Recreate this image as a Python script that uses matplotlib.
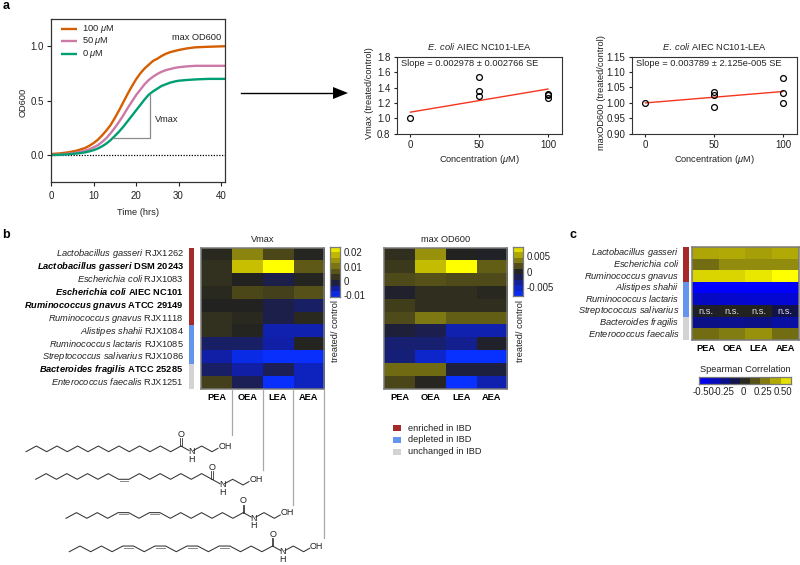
import matplotlib
matplotlib.use('Agg')
import matplotlib.pyplot as plt
import numpy as np
from matplotlib.colors import LinearSegmentedColormap, TwoSlopeNorm
from matplotlib.patches import Rectangle

plt.rcParams['font.family'] = ['Liberation Sans', 'DejaVu Sans']
plt.rcParams['mathtext.fontset'] = 'custom'
plt.rcParams['mathtext.rm'] = 'Liberation Sans'
plt.rcParams['mathtext.it'] = 'Liberation Sans:italic'
plt.rcParams['mathtext.bf'] = 'Liberation Sans:bold'
plt.rcParams['mathtext.bfit'] = 'Liberation Sans:italic:bold'

# panel a growth curves
time_hrs = [0, 2, 4, 6, 8, 9, 10, 11, 12, 13, 14, 15, 16, 17, 18, 19, 20, 21, 22, 23, 24, 25, 26, 27, 28, 29, 30,
            32, 34, 37, 41]
od_100 = [.01, .015, .025, .04, .065, .085, .11, .14, .18, .225, .275, .34, .41, .485, .56, .63, .695, .75, .795,
          .83, .865, .885, .91, .93, .945, .955, .965, .98, .99, .995, 1.0]
od_50 = [0, .005, .012, .022, .04, .053, .07, .09, .12, .155, .2, .25, .305, .365, .43, .49, .55, .6, .65,
         .69, .72, .745, .765, .78, .79, .80, .807, .815, .82, .82, .82]
od_0 = [0, .003, .007, .014, .025, .034, .045, .06, .08, .105, .137, .175, .215, .26, .31, .36, .41, .46, .51,
        .555, .585, .61, .635, .65, .665, .675, .683, .69, .695, .70, .70]

# panel a regressions
conc_pts = [0, 50, 50, 50, 100, 100, 100]
vmax_pts = [1.0, 1.53, 1.35, 1.29, 1.32, 1.30, 1.27]
maxod_pts = [1.0, 1.037, 1.025, 0.987, 1.082, 1.031, 1.0]
fit_conc = [0, 100]
vmax_fit = [1.08, 1.38]
maxod_fit = [1.0, 1.037]

# panel b
strains = [
    (r'Lactobacillus\ gasseri', 'RJX1262', False),
    (r'Lactobacillus\ gasseri', 'DSM 20243', True),
    (r'Escherichia\ coli', 'RJX1083', False),
    (r'Escherichia\ coli', 'AIEC NC101', True),
    (r'Ruminococcus\ gnavus', 'ATCC 29149', True),
    (r'Ruminococcus\ gnavus', 'RJX1118', False),
    (r'Alistipes\ shahii', 'RJX1084', False),
    (r'Ruminococcus\ lactaris', 'RJX1085', False),
    (r'Streptococcus\ salivarius', 'RJX1086', False),
    (r'Bacteroides\ fragilis', 'ATCC 25285', True),
    (r'Enterococcus\ faecalis', 'RJX1251', False),
]
compounds = ['PEA', 'OEA', 'LEA', 'AEA']
vmax_heat = [
    [.001, .012, .005, .0005],
    [.002, .019, .024, .007],
    [.002, 0, -.002, .0003],
    [.001, .005, .004, .006],
    [0, 0, -.002, -.003],
    [.002, .001, -.002, .001],
    [.002, .0002, -.006, -.006],
    [-.003, -.003, -.0055, .0003],
    [-.0055, -.0095, -.011, -.011],
    [-.003, -.0055, -.0025, -.007],
    [.004, -.0025, -.011, -.007],
]
maxod_heat = [
    [.0005, .0045, 0, -.0002],
    [.001, .0062, .008, .0025],
    [.0018, .002, .0018, .0018],
    [-.0004, .0006, .0006, .0003],
    [.0012, .0005, .0005, .0005],
    [.0018, .0035, .0025, .0025],
    [-.0008, -.0015, -.0042, -.0042],
    [-.0024, -.0024, -.0032, -.0003],
    [-.0026, -.0055, -.0078, -.0078],
    [.003, .003, -.001, -.001],
    [.0016, .0002, -.0078, -.0042],
]
strain_groups = ['brown'] * 6 + ['cornflowerblue'] * 3 + ['lightgray'] * 2

# panel c
species = ['Lactobacillus gasseri', 'Escherichia coli', 'Ruminococcus gnavus', 'Alistipes shahii',
           'Ruminococcus lactaris', 'Streptococcus salivarius', 'Bacteroides fragilis', 'Enterococcus faecalis']
spearman = [
    [.40, .41, .38, .41],
    [.23, .32, .32, .32],
    [.52, .52, .55, .60],
    [-.55, -.55, -.55, -.55],
    [-.38, -.40, -.42, -.42],
    [-.02, 0, 0, -.1],
    [-.22, -.24, -.22, -.28],
    [.23, .28, .34, .23],
]
species_groups = ['brown'] * 3 + ['cornflowerblue'] * 3 + ['lightgray'] * 2
ns_row = 5

# structures: bonds in the tail and which of them are double
tails = [
    (15, [], 26.0, 451.7, 10.33),
    (17, [8], 35.7, 479.3, 10.37),
    (17, [5, 8], 66.0, 518.3, 10.43),
    (19, [5, 8, 11, 14], 69.3, 551.7, 10.7),
]
line_ends = [435, 470, 505, 537.7]

W, H = 800, 565
fig = plt.figure(figsize=(8, 5.65), dpi=100, facecolor='white')
FS = 6.7
TXT = '#222222'


def ax_px(l, t, r, b):
    return fig.add_axes([l / W, 1 - b / H, (r - l) / W, (b - t) / H])


# overlay in pixel coordinates for the annotations
ov = fig.add_axes([0, 0, 1, 1], zorder=5)
ov.set_xlim(0, W)
ov.set_ylim(H, 0)
ov.axis('off')


def label(x, y, s, **kw):
    kw.setdefault('fontsize', FS)
    kw.setdefault('color', TXT)
    kw.setdefault('va', 'center')
    kw.setdefault('ha', 'center')
    ov.text(x, y, s, **kw)


for s, x, y in [('a', 2.5, 6), ('b', 2.5, 235.5), ('c', 569, 235.5)]:
    label(x, y, s, fontsize=9, fontweight='bold', ha='left', color='black')

# --- growth curves
ax = ax_px(51, 19, 225.3, 182.3)
ax.plot(time_hrs, od_100, color='#d55e00', lw=1.7, solid_capstyle='butt')
ax.plot(time_hrs, od_50, color='#cc79a7', lw=1.7, solid_capstyle='butt')
ax.plot(time_hrs, od_0, color='#009e73', lw=1.7, solid_capstyle='butt')
ax.axhline(0, color='black', lw=0.9, ls=(0, (1, 1.2)), zorder=1)
ax.plot([14.5, 23.3, 23.3], [.155, .155, .56], color='#8c8c8c', lw=0.9)
ax.set_xlim(0, 41)
ax.set_ylim(-0.25, 1.25)
ax.set_xticks([0, 10, 20, 30, 40])
ax.set_yticks([0, .5, 1])
ax.set_yticklabels(['0.0', '0.5', '1.0'])
ax.tick_params(labelsize=7, length=3, width=0.8, pad=2, colors=TXT)
ax.tick_params(axis='x', pad=3.5)
for sp in ax.spines.values():
    sp.set_linewidth(0.9)
    sp.set_color('#333333')
label(138, 212.5, 'Time (hrs)', fontsize=FS)
label(23, 102, 'OD600', rotation=90, fontsize=FS)
label(167, 119, 'Vmax', fontsize=FS)
label(221, 38, 'max OD600', ha='right', fontsize=FS)
for y, c, s in [(29.3, '#d55e00', r'100 $\mu$M'), (41, '#cc79a7', r'50 $\mu$M'), (54.3, '#009e73', r'0 $\mu$M')]:
    ov.plot([61, 77.3], [y, y], color=c, lw=1.7, solid_capstyle='butt')
    label(82.3, y, s, ha='left', fontsize=6.7)

# big arrow
ov.plot([241, 335], [93, 93], color='black', lw=1)
ov.fill([333, 348, 333], [87, 93, 99], color='black', lw=0)


# --- regressions
def regression(box, pts, fit, ylim, ticks, fmt, slope, ylab, ylab_x):
    a = ax_px(*box)
    a.plot(fit_conc, fit, color='#f5351f', lw=1)
    a.plot(conc_pts, pts, 'o', mfc='none', mec='black', mew=0.9, ms=4.2, ls='none')
    a.set_xlim(-10, 110)
    a.set_ylim(*ylim)
    a.set_xticks([0, 50, 100])
    a.set_yticks(ticks)
    a.set_yticklabels([fmt % t for t in ticks])
    a.tick_params(labelsize=7, length=2.5, width=0.8, pad=2, colors=TXT)
    for sp in a.spines.values():
        sp.set_linewidth(0.8)
        sp.set_color('#333333')
    mid = (box[0] + box[2]) / 2
    label(mid, 47, r'$\mathit{E.\ coli}$ AIEC NC101-LEA', fontsize=FS)
    label(box[0] + 4.5, 63.3, slope, ha='left', fontsize=FS)
    label(mid, 159, r'Concentration ($\mu$M)', fontsize=FS)
    label(ylab_x, 93, ylab, rotation=90, fontsize=FS)


regression((396.7, 56.7, 561.7, 133.7), vmax_pts, vmax_fit, (.8, 1.8), [.8, 1, 1.2, 1.4, 1.6, 1.8], '%.1f',
           'Slope = 0.002978 ± 0.002766 SE', 'Vmax (treated/control)', 370)
regression((631.7, 56.7, 796.7, 133.7), maxod_pts, maxod_fit, (.9, 1.15), [.9, .95, 1, 1.05, 1.1, 1.15], '%.2f',
           'Slope = 0.003789 ± 2.125e-005 SE', 'maxOD600 (treated/control)', 601)

# --- heatmaps
cmap_b = LinearSegmentedColormap.from_list('bluedarkyellow', [
    (0, '#0830ff'), (.25, '#1020a8'), (.4, '#1c1f50'), (.5, '#222222'),
    (.6, '#4a461a'), (.75, '#8a8410'), (.9, '#c8c000'), (1, '#ffff00')])
cmap_c = LinearSegmentedColormap.from_list('bluedarkyellow2', [
    (0, '#0000ff'), (.25, '#0a10a0'), (.4, '#12124f'), (.5, '#222222'),
    (.6, '#4a461a'), (.75, '#8a8410'), (.9, '#c8c000'), (1, '#ffff00')])


def heat(box, values, cmap, norm):
    a = ax_px(*box)
    a.imshow(values, cmap=cmap, norm=norm, aspect='auto', interpolation='nearest')
    a.set_xticks([])
    a.set_yticks([])
    for sp in a.spines.values():
        sp.set_linewidth(1.1)
        sp.set_color('#7a7a7a')


def scale_bar(box, cmap, norm, ticks, ticklabels, horizontal=False):
    # banded key, value axis stays linear so ticks land where the reference has them
    c = ax_px(*box)
    edges = np.linspace(norm.vmin, norm.vmax, 10)
    mids = (edges[:-1] + edges[1:]) / 2
    if horizontal:
        c.pcolormesh(edges, [0, 1], mids[None, :], cmap=cmap, norm=norm)
        c.set_yticks([])
        c.set_xticks(ticks)
        c.set_xticklabels(ticklabels)
    else:
        c.pcolormesh([0, 1], edges, mids[:, None], cmap=cmap, norm=norm)
        c.set_xticks([])
        c.yaxis.tick_right()
        c.set_yticks(ticks)
        c.set_yticklabels(ticklabels)
    c.tick_params(length=0, labelsize=FS + 0.2, pad=2.5, colors=TXT)
    for sp in c.spines.values():
        sp.set_linewidth(0.9)
        sp.set_color('#7a7a7a')


heat_top, heat_bot = 247.7, 389.3
row_h = (heat_bot - heat_top) / len(strains)
norm_vmax = TwoSlopeNorm(0, -.0112, .024)
norm_maxod = TwoSlopeNorm(0, -.0078, .008)
norm_corr = TwoSlopeNorm(0, -.55, .6)
heat((201, heat_top, 324, heat_bot), vmax_heat, cmap_b, norm_vmax)
heat((384.3, heat_top, 507.3, heat_bot), maxod_heat, cmap_b, norm_maxod)
scale_bar((330, 246.7, 340, 296.7), cmap_b, norm_vmax, [.02, .01, 0, -.01], ['0.02', '0.01', '0', '-0.01'])
scale_bar((513.3, 246.7, 523.3, 296), cmap_b, norm_maxod, [.005, 0, -.005], ['0.005', '0', '-0.005'])
label(262.5, 240, 'Vmax')
label(445.8, 240, 'max OD600')
label(336, 330.5, 'treated/ control', rotation=90)
label(520.5, 331, 'treated/ control', rotation=90)

for i, (name, code, bold) in enumerate(strains):
    y = heat_top + (i + .5) * row_h + 2.3
    if bold:
        label(183.7, y, r'$\mathbfit{%s}$ %s' % (name, code), ha='right', va='baseline', fontweight='bold', color='black')
    else:
        label(183.7, y, r'$\mathit{%s}$ %s' % (name, code), ha='right', va='baseline')
    ov.add_patch(Rectangle((188.7, heat_top + i * row_h), 5.6, row_h, color=strain_groups[i], lw=0))

for left in (201, 384.3):
    for j, comp in enumerate(compounds):
        label(left + (j + .5) * 123 / 4, 398, comp, fontweight='bold', color='black')

# panel c heatmap
c_top, c_bot = 247.3, 340
c_row = (c_bot - c_top) / len(species)
heat((692.3, c_top, 798.7, c_bot), spearman, cmap_c, norm_corr)
scale_bar((699.3, 376.7, 790.7, 384), cmap_c, norm_corr, [-.5, -.25, 0, .25, .5],
          ['-0.50', '-0.25', '0', '0.25', '0.50'], horizontal=True)
label(745, 370, 'Spearman Correlation')
for i, name in enumerate(species):
    y = c_top + (i + .5) * c_row + 2.3
    label(679.3, y, r'$\mathit{%s}$' % name.replace(' ', r'\ '), ha='right', va='baseline')
    ov.add_patch(Rectangle((683.3, c_top + i * c_row), 5.4, c_row, color=species_groups[i], lw=0))
for j, comp in enumerate(compounds):
    xc = 692.3 + (j + .5) * 106.4 / 4
    label(xc, 348.5, comp, fontweight='bold', color='black')
    label(xc, c_top + (ns_row + .5) * c_row, 'n.s.', color='#dddddd')

# legend of groups
for y, c, s in [(428.3, 'brown', 'enriched in IBD'), (440, 'cornflowerblue', 'depleted in IBD'),
                (451.7, 'lightgray', 'unchanged in IBD')]:
    ov.add_patch(Rectangle((392.7, y - 3), 8.6, 6, color=c, lw=0))
    label(407.7, y, s, ha='left')

# leader lines from the heatmap columns to the structures
for j, end in enumerate(line_ends):
    x = 201 + (j + 1) * 123 / 4
    ov.plot([x, x], [heat_bot, end], color='#a8a8a8', lw=0.9)


# --- structures
def molecule(n_bonds, doubles, x0, y0, step):
    rise = 5.67
    xs, ys = [x0], [y0]
    up = True
    for b in range(n_bonds):
        xs.append(xs[-1] + step)
        if b in doubles:
            ys.append(ys[-1])
            ov.plot([xs[-2] + 1, xs[-1] - 1], [ys[-1] + 1.5, ys[-1] + 1.5], color='#888888', lw=0.7)
        else:
            ys.append(ys[-1] - rise if up else ys[-1] + rise)
            up = not up
    cx, cy = xs[-1], ys[-1]
    col = '#333333'
    ov.plot(xs, ys, color=col, lw=0.75)
    ov.plot([cx - .8, cx - .8], [cy, cy - 8], color=col, lw=0.6)
    ov.plot([cx + .8, cx + .8], [cy, cy - 8], color=col, lw=0.6)
    label(cx, cy - 12, 'O', fontsize=6.5)
    ov.plot([cx, cx + 8], [cy, cy + 4.4], color=col, lw=0.75)
    label(cx + 10.3, cy + rise, 'N', fontsize=6.5)
    label(cx + 10.3, cy + rise + 7.7, 'H', fontsize=6.5)
    ov.plot([cx + 12.5, cx + 20.7, cx + 31, cx + 37], [cy + 4.4, cy, cy + rise, cy + 2.3], color=col, lw=0.75)
    label(cx + 44, cy, 'OH', fontsize=6.5)


for n_bonds, doubles, x0, y0, step in tails:
    molecule(n_bonds, doubles, x0, y0, step)

fig.savefig('out.png', dpi=100, facecolor='white')
